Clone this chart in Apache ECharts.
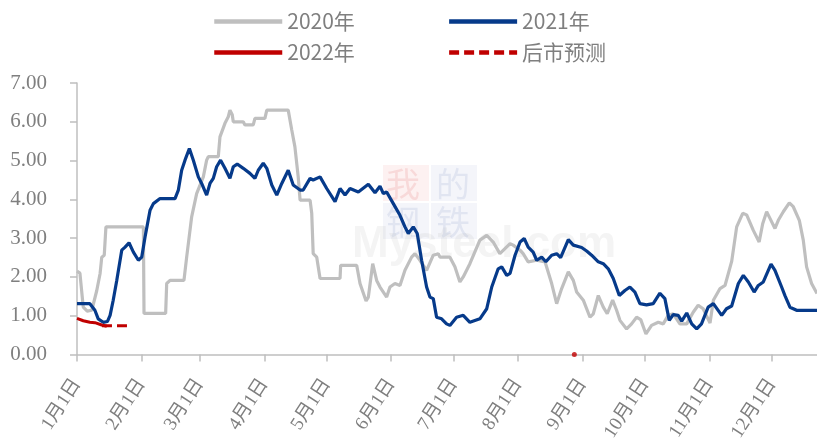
<!DOCTYPE html>
<html><head><meta charset="utf-8">
<script src="https://cdn.jsdelivr.net/npm/echarts@6/dist/echarts.min.js"></script>
<style>html,body{margin:0;padding:0;background:#fff}#c{width:817px;height:448px}</style>
</head><body><div id="c"></div>
<script>
// x values are day-of-year (0 = 1月1日)
const monthStarts = [0,31,59,90,120,151,181,212,243,273,304,334];
const tickLabels = ['1月1日','2月1日','3月1日','4月1日','5月1日','6月1日','7月1日','8月1日','9月1日','10月1日','11月1日','12月1日'];
const yTicks = [0,1,2,3,4,5,6,7];

const days2020 = [0,1.4,3,4.9,7.1,9.5,11.1,11.9,13.1,13.9,31.9,32.2,42.6,43.1,44.7,51.4,52.7,55.1,57.5,60.7,62.3,63.1,67.9,68.7,71.1,72.7,73.5,74.6,75.1,79.9,80.7,84.7,85.5,90.3,91.2,101.5,103.2,104.7,106.3,107.2,112,112.8,113.5,115.2,116.8,126.4,126.7,134.4,136,138.9,140,142.1,144,145.6,148.8,150.4,152.8,155.2,157.6,160.8,162.4,164.8,168,171.2,173.6,174.4,179.2,181.6,184,185.6,188.8,193.6,196.9,200,203.2,208.1,209.6,212.9,214.4,216.8,220.9,224.9,228.1,230.5,232.9,236.1,238.5,240.1,243.3,246.5,248.1,250.5,252.9,254.8,257.4,259.3,260.9,264.1,266.5,268.9,270.9,273.4,276.1,279.3,281.7,284.1,286.5,289.7,293,296.1,298.5,300.9,304.2,305.8,309,311.4,314.6,317,319.9,321.8,325,327.8,329.5,331.4,333,335.4,337,339.4,342.3,344.2,347.1,349,350.6,353,355.6];
const vals2020 = [2.15,2.1,1.22,1.12,1.14,1.65,2.09,2.51,2.56,3.29,3.29,1.06,1.06,1.83,1.91,1.91,2.51,3.55,4.15,4.58,5.01,5.1,5.1,5.61,5.96,6.13,6.3,6.18,6.0,6.0,5.92,5.92,6.09,6.09,6.3,6.3,5.79,5.36,4.58,3.98,3.98,3.64,2.6,2.51,1.96,1.96,2.3,2.3,1.83,1.38,1.48,2.34,1.91,1.74,1.48,1.74,1.83,1.78,2.17,2.51,2.6,2.43,2.17,2.56,2.6,2.51,2.51,2.26,1.87,2.0,2.34,2.95,3.07,2.9,2.6,2.86,2.82,2.69,2.6,2.39,2.43,2.39,1.83,1.31,1.7,2.13,1.91,1.61,1.4,0.96,1.05,1.52,1.22,1.05,1.4,1.14,0.88,0.66,0.79,0.96,0.9,0.53,0.75,0.83,0.79,1.01,1.05,0.79,0.79,1.09,1.27,1.18,0.81,1.4,1.7,1.78,2.4,3.29,3.64,3.6,3.2,2.9,3.37,3.68,3.51,3.25,3.46,3.68,3.91,3.81,3.46,2.95,2.26,1.83,1.57];

const days2021 = [0,6.2,8.6,10.2,12.6,14.6,15.9,17.4,19.1,21.5,23.1,25,27.1,29.5,31.1,32.7,35.1,36.7,39.9,47.1,48.7,50.3,51.9,54,55.9,58.3,59.9,62.3,63.9,65.5,67.1,69,71.1,73.5,75.1,77,79.9,83.1,85.5,87.1,89.5,91.2,93.6,96,98.4,101.5,103.9,107.2,108.7,112,113.5,116.8,120,124,126.4,128.8,131.2,135.2,140,143.2,145.6,147.2,148.8,152,155.2,157.6,159.2,161.6,163.5,165.6,168,169.6,171.2,172.8,175.2,177.6,179.2,182.4,185.6,188.8,193.6,196.9,199.3,202.4,204.1,206.5,208.1,210.5,212.9,214.9,216.8,219.2,220.9,223.3,225.3,228.1,230.5,232.4,236.1,238.5,242.5,244.9,247.3,250.5,252.9,255.3,257.7,260.6,263.3,265.7,268.1,270.5,273.7,276.9,280.1,282.5,284.6,286.5,288.9,290.6,293,295.4,297.8,300.1,303.3,305.8,309.8,312.1,314.6,317.8,320.2,322.6,325.4,327.4,329.8,333.5,335.4,338.6,340.2,342.6,345.8,355.6];
const vals2021 = [1.31,1.31,1.14,0.92,0.83,0.85,1.01,1.4,1.91,2.69,2.77,2.88,2.64,2.43,2.51,3.03,3.72,3.89,4.02,4.02,4.24,4.75,5.01,5.31,5.01,4.58,4.41,4.11,4.41,4.54,4.84,5.01,4.8,4.54,4.84,4.91,4.8,4.67,4.54,4.75,4.93,4.8,4.37,4.11,4.41,4.75,4.37,4.24,4.24,4.54,4.5,4.58,4.28,3.94,4.28,4.11,4.28,4.19,4.39,4.17,4.34,4.15,4.19,3.89,3.59,3.29,3.12,3.29,3.12,2.43,1.74,1.48,1.44,0.96,0.92,0.79,0.75,0.96,1.01,0.83,0.92,1.18,1.74,2.21,2.26,2.04,2.09,2.56,2.9,2.99,2.77,2.64,2.43,2.51,2.39,2.56,2.6,2.5,2.96,2.82,2.76,2.67,2.56,2.39,2.34,2.21,1.96,1.52,1.65,1.74,1.61,1.31,1.28,1.31,1.58,1.44,0.88,1.03,1.01,0.86,1.07,0.79,0.66,0.79,1.22,1.31,1.01,1.18,1.25,1.83,2.04,1.87,1.61,1.78,1.87,2.33,2.17,1.74,1.52,1.22,1.14,1.14];

const days2022 = [0,3,6.2,8.6,11.9,14.3];
const vals2022 = [0.93,0.87,0.83,0.82,0.76,0.73];

const daysForecast = [12,24.6];
const valsForecast = [0.74,0.74];
const dotDays = [239];
const dotVals = [0];

const zip = (d, v) => d.map((x, i) => [x, v[i]]);

const serif = "'Times New Roman','Liberation Serif','Noto Sans CJK SC',serif";
const sans = "'Noto Sans CJK SC','Noto Sans',sans-serif";
const grey = '#7F7F7F';

const legendBase = {left: 207, itemWidth: 68, itemHeight: 14, itemGap: 92,
  itemStyle: {opacity: 0}, lineStyle: {width: 4.5},
  textStyle: {color: grey, fontSize: 21, fontFamily: sans}};

const chart = echarts.init(document.getElementById('c'), null, {renderer: 'canvas'});
chart.setOption({
  animation: false,
  backgroundColor: '#fff',
  grid: {left: 77, right: 0, top: 83, bottom: 93.5, containLabel: false},
  legend: [
    Object.assign({data: ['2020年','2021年'], top: 6}, legendBase),
    Object.assign({data: ['2022年','后市预测'], top: 37}, legendBase)
  ],
  xAxis: {
    type: 'value', min: 0, max: 355.6,
    splitLine: {show: false},
    axisLine: {show: true, lineStyle: {color: '#BFBFBF', width: 1.5}},
    axisTick: {show: true, customValues: monthStarts, length: 7, lineStyle: {color: '#BFBFBF', width: 1.5}},
    axisLabel: {
      customValues: monthStarts, rotate: 57, margin: 26,
      color: grey, fontSize: 19, fontFamily: serif,
      formatter: v => tickLabels[monthStarts.indexOf(Math.round(v))] || ''
    }
  },
  yAxis: {
    type: 'value', min: 0, max: 7, interval: 1,
    splitLine: {show: false},
    axisLine: {show: true, lineStyle: {color: '#BFBFBF', width: 1.5}},
    axisTick: {show: true, length: 7, lineStyle: {color: '#BFBFBF', width: 1.5}},
    axisLabel: {color: grey, fontSize: 21, fontFamily: serif, margin: 30,
      formatter: v => yTicks.indexOf(v) >= 0 ? v.toFixed(2) : ''}
  },
  graphic: [
    {type: 'group', left: 352, top: 165, silent: true, z: -10, children: [
      {type: 'rect', shape: {x: 31, y: 0, width: 46, height: 36}, style: {fill: 'rgba(230,60,60,0.07)'}},
      {type: 'rect', shape: {x: 79, y: 0, width: 46, height: 36}, style: {fill: 'rgba(60,90,170,0.06)'}},
      {type: 'rect', shape: {x: 31, y: 38, width: 46, height: 36}, style: {fill: 'rgba(60,90,170,0.06)'}},
      {type: 'rect', shape: {x: 79, y: 38, width: 46, height: 36}, style: {fill: 'rgba(60,90,170,0.06)'}},
      {type: 'text', style: {x: 34, y: 2, text: '我', fontSize: 34, fill: 'rgba(220,60,60,0.13)', fontFamily: sans}},
      {type: 'text', style: {x: 84, y: 2, text: '的', fontSize: 34, fill: 'rgba(60,90,170,0.10)', fontFamily: sans}},
      {type: 'text', style: {x: 34, y: 40, text: '钢', fontSize: 34, fill: 'rgba(60,90,170,0.10)', fontFamily: sans}},
      {type: 'text', style: {x: 84, y: 40, text: '铁', fontSize: 34, fill: 'rgba(60,90,170,0.10)', fontFamily: sans}},
      {type: 'text', style: {x: 0, y: 58, text: 'Mysteel.com', fontSize: 44, fontWeight: 'bold', fill: 'rgba(180,180,180,0.15)', fontFamily: "'Liberation Sans',sans-serif"}}
    ]}
  ],
  series: [
    {name: '2020年', type: 'line', data: zip(days2020, vals2020), symbol: 'none', color: '#BFBFBF',
     lineStyle: {color: '#BFBFBF', width: 3.2}, z: 2},
    {name: '2021年', type: 'line', data: zip(days2021, vals2021), symbol: 'none', color: '#063A8A',
     lineStyle: {color: '#063A8A', width: 3.2}, z: 3},
    {name: '2022年', type: 'line', data: zip(days2022, vals2022), symbol: 'none', color: '#C00000',
     lineStyle: {color: '#C00000', width: 3}, z: 4},
    {name: '后市预测', type: 'line', data: zip(daysForecast, valsForecast), symbol: 'none', color: '#C00000',
     lineStyle: {color: '#C00000', width: 3, type: [10, 5]}, z: 4},
    {name: 'dot', type: 'scatter', data: zip(dotDays, dotVals), symbol: 'circle', symbolSize: 5,
     itemStyle: {color: '#C00000'}, z: 5}
  ]
});
</script></body></html>
